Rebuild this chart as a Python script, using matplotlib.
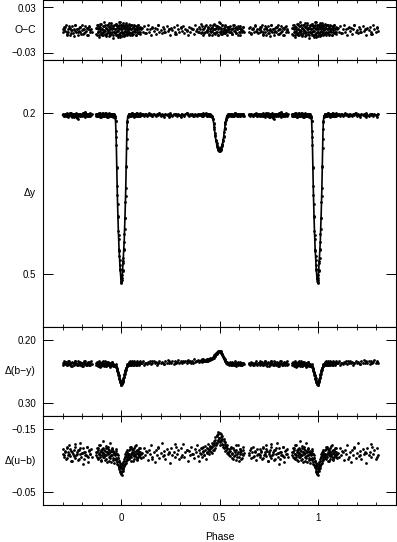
import numpy as np
import matplotlib.pyplot as plt
from matplotlib.ticker import MultipleLocator, NullLocator

plt.rcParams['font.family'] = ['Liberation Sans', 'DejaVu Sans']

# orbital phase of each observation (one cycle, -0.3 .. 0.7); two runs of data
phase = np.array([
    # run 1
    -0.300, -0.296, -0.291, -0.287, -0.283, -0.278, -0.274, -0.270, -0.265, -0.261,
    -0.257, -0.252, -0.248, -0.244, -0.239, -0.235, -0.230, -0.226, -0.222, -0.217,
    -0.213, -0.209, -0.204, -0.200, -0.195, -0.191, -0.187, -0.182, -0.178, -0.174,
    -0.169, -0.165, -0.161, -0.156, -0.152,
    -0.131, -0.128, -0.125, -0.122, -0.119, -0.116, -0.113, -0.110, -0.107, -0.104,
    -0.101, -0.098, -0.095, -0.092, -0.089, -0.086, -0.083, -0.080, -0.077, -0.074,
    -0.071, -0.068, -0.065, -0.062, -0.059, -0.056, -0.053, -0.050, -0.047, -0.044,
    -0.041, -0.038, -0.035,
    -0.032, -0.030, -0.028, -0.026, -0.024, -0.022, -0.020, -0.018, -0.016, -0.014,
    -0.012, -0.010, -0.008, -0.006, -0.004, -0.002, 0.000, 0.002, 0.004, 0.006,
    0.008, 0.010, 0.012, 0.014, 0.016, 0.018, 0.020, 0.022, 0.024, 0.026,
    0.028, 0.030, 0.032,
    0.035, 0.038, 0.041, 0.044, 0.047, 0.050, 0.053, 0.056, 0.059, 0.062,
    0.065, 0.068, 0.071, 0.074, 0.077, 0.080, 0.083, 0.086, 0.089, 0.092,
    0.095, 0.098,
    0.104, 0.110, 0.116, 0.122, 0.128, 0.134, 0.140, 0.146, 0.152, 0.158,
    0.164, 0.170, 0.176, 0.182, 0.188, 0.194, 0.200, 0.206, 0.212, 0.218,
    0.224, 0.230, 0.236, 0.242, 0.248, 0.254, 0.260, 0.266, 0.272, 0.278,
    0.284, 0.290, 0.296, 0.302, 0.308, 0.314, 0.320, 0.326, 0.332, 0.338,
    0.344, 0.350, 0.356, 0.362, 0.368, 0.374, 0.380, 0.386, 0.392, 0.398,
    0.404, 0.410, 0.416, 0.422, 0.428, 0.434, 0.440, 0.446, 0.452,
    0.458, 0.461, 0.464, 0.467, 0.470, 0.473, 0.476, 0.479, 0.482, 0.485,
    0.488, 0.491, 0.494, 0.497, 0.500, 0.503, 0.506, 0.509, 0.512, 0.515,
    0.518, 0.521, 0.524, 0.527, 0.530, 0.533, 0.536, 0.539, 0.542,
    0.547, 0.552, 0.557, 0.562, 0.567, 0.572, 0.577, 0.582, 0.587, 0.592,
    0.597, 0.602, 0.607, 0.612, 0.617, 0.622, 0.627,
    0.650, 0.655, 0.660, 0.665, 0.670, 0.675, 0.680, 0.685, 0.690, 0.695,
    # run 2
    -0.293, -0.289, -0.280, -0.276, -0.268, -0.263, -0.255, -0.250, -0.242, -0.237,
    -0.228, -0.224, -0.215, -0.211, -0.202, -0.197, -0.189, -0.184, -0.176, -0.171,
    -0.163, -0.158,
    -0.126, -0.123, -0.120, -0.117, -0.114, -0.111, -0.108, -0.105, -0.102, -0.099,
    -0.096, -0.093, -0.090, -0.087, -0.084, -0.081, -0.078, -0.075, -0.072, -0.069,
    -0.066, -0.063, -0.060, -0.057, -0.054, -0.051, -0.048, -0.045, -0.042, -0.039,
    -0.036, -0.033, -0.030, -0.027, -0.024, -0.021, -0.018, -0.015, -0.012, -0.009,
    -0.006, -0.003, 0.000, 0.003, 0.006, 0.009, 0.012, 0.015, 0.018, 0.021,
    0.024, 0.027, 0.030, 0.033, 0.036, 0.039, 0.042, 0.045, 0.048, 0.051,
    0.054, 0.057, 0.060, 0.063, 0.066, 0.069, 0.072, 0.075, 0.078, 0.081,
    0.084, 0.087, 0.090, 0.093, 0.096, 0.099,
    0.125, 0.155, 0.185, 0.215, 0.245, 0.275, 0.305, 0.335, 0.365, 0.395,
    0.402, 0.406, 0.410, 0.414, 0.418, 0.422, 0.426, 0.430, 0.434, 0.438,
    0.442, 0.446, 0.450, 0.454, 0.458, 0.462, 0.466, 0.470, 0.474, 0.478,
    0.482, 0.486, 0.490, 0.494, 0.498, 0.502, 0.506, 0.510, 0.514, 0.518,
    0.522, 0.526, 0.530, 0.534, 0.538, 0.542, 0.546, 0.550, 0.554, 0.558,
    0.562, 0.566, 0.570, 0.574, 0.578, 0.582, 0.586, 0.590, 0.594, 0.598,
    0.602, 0.606, 0.610, 0.614, 0.618, 0.622,
    0.652, 0.662, 0.672, 0.682, 0.692,
])

# Delta y (mag)
d_y = np.array([
    # run 1
    0.203, 0.201, 0.205, 0.202, 0.204, 0.200, 0.203, 0.206, 0.202, 0.199,
    0.204, 0.203, 0.201, 0.207, 0.202, 0.204, 0.200, 0.203, 0.211, 0.202,
    0.205, 0.201, 0.203, 0.204, 0.199, 0.202, 0.206, 0.203, 0.201, 0.204,
    0.202, 0.205, 0.200, 0.203, 0.202,
    0.202, 0.204, 0.201, 0.203, 0.205, 0.200, 0.203, 0.202, 0.206, 0.201,
    0.203, 0.204, 0.199, 0.202, 0.205, 0.203, 0.201, 0.204, 0.202, 0.203,
    0.206, 0.201, 0.203, 0.200, 0.204, 0.202, 0.205, 0.203, 0.201, 0.204,
    0.203, 0.202, 0.204,
    0.208, 0.214, 0.233, 0.260, 0.302, 0.336, 0.370, 0.392, 0.420, 0.436,
    0.457, 0.467, 0.484, 0.492, 0.506, 0.510, 0.517, 0.512, 0.503, 0.495,
    0.480, 0.470, 0.453, 0.440, 0.416, 0.396, 0.366, 0.340, 0.298, 0.264,
    0.230, 0.216, 0.206,
    0.204, 0.202, 0.205, 0.201, 0.203, 0.204, 0.200, 0.203, 0.202, 0.205,
    0.203, 0.201, 0.204, 0.202, 0.199, 0.203, 0.205, 0.202, 0.203, 0.201,
    0.204, 0.202,
    0.203, 0.201, 0.204, 0.202, 0.205, 0.203, 0.200, 0.203, 0.202, 0.204,
    0.201, 0.203, 0.205, 0.202, 0.203, 0.199, 0.204, 0.202, 0.203, 0.206,
    0.201, 0.203, 0.202, 0.204, 0.200, 0.203, 0.205, 0.202, 0.203, 0.201,
    0.204, 0.202, 0.203, 0.206, 0.201, 0.203, 0.204, 0.202, 0.200, 0.203,
    0.205, 0.202, 0.203, 0.201, 0.204, 0.202, 0.203, 0.205, 0.201, 0.203,
    0.202, 0.204, 0.200, 0.203, 0.202, 0.205, 0.203, 0.201, 0.204,
    0.203, 0.205, 0.207, 0.211, 0.218, 0.225, 0.236, 0.243, 0.252, 0.256,
    0.263, 0.264, 0.268, 0.268, 0.271, 0.269, 0.266, 0.266, 0.261, 0.258,
    0.250, 0.245, 0.234, 0.227, 0.216, 0.212, 0.206, 0.204, 0.202,
    0.203, 0.201, 0.204, 0.202, 0.205, 0.203, 0.200, 0.203, 0.202, 0.204,
    0.201, 0.203, 0.205, 0.202, 0.203, 0.201, 0.204,
    0.202, 0.204, 0.201, 0.203, 0.205, 0.202, 0.203, 0.200, 0.204, 0.202,
    # run 2
    0.204, 0.202, 0.201, 0.205, 0.203, 0.203, 0.200, 0.206, 0.202, 0.204,
    0.209, 0.201, 0.203, 0.205, 0.202, 0.202, 0.204, 0.197, 0.203, 0.205,
    0.201, 0.204,
    0.203, 0.205, 0.201, 0.204, 0.203, 0.200, 0.204, 0.206, 0.202, 0.203,
    0.201, 0.204, 0.205, 0.202, 0.203, 0.199, 0.204, 0.202, 0.206, 0.203,
    0.201, 0.203, 0.205, 0.202, 0.204, 0.201, 0.203, 0.206, 0.202, 0.204,
    0.203, 0.206, 0.215, 0.245, 0.300, 0.352, 0.394, 0.428, 0.455, 0.475,
    0.494, 0.509, 0.515, 0.508, 0.493, 0.476, 0.456, 0.426, 0.395, 0.354,
    0.301, 0.248, 0.214, 0.205, 0.203, 0.201, 0.204, 0.205, 0.202, 0.203,
    0.200, 0.204, 0.202, 0.206, 0.203, 0.201, 0.204, 0.203, 0.202, 0.205,
    0.201, 0.203, 0.204, 0.202, 0.200, 0.203,
    0.202, 0.204, 0.201, 0.203, 0.206, 0.202, 0.203, 0.200, 0.204, 0.202,
    0.203, 0.201, 0.204, 0.202, 0.205, 0.203, 0.202, 0.200, 0.204, 0.203,
    0.201, 0.205, 0.202, 0.203, 0.204, 0.206, 0.210, 0.219, 0.229, 0.241,
    0.250, 0.259, 0.263, 0.267, 0.270, 0.269, 0.268, 0.263, 0.259, 0.251,
    0.242, 0.230, 0.219, 0.211, 0.206, 0.203, 0.202, 0.204, 0.203, 0.201,
    0.205, 0.202, 0.203, 0.204, 0.200, 0.203, 0.202, 0.205, 0.201, 0.203,
    0.204, 0.202, 0.203, 0.201, 0.204, 0.202,
    0.203, 0.201, 0.204, 0.202, 0.205,
])

# O-C residuals (mag)
o_c = np.array([
    # run 1
    0.002, -0.003, 0.004, -0.001, 0.006, -0.005, 0.001, -0.002, 0.003, -0.006,
    0.000, 0.005, -0.004, 0.002, -0.001, 0.007, -0.003, 0.001, -0.007, 0.003,
    -0.002, 0.004, -0.005, 0.000, 0.002, -0.004, 0.005, -0.001, 0.003, -0.006,
    0.001, 0.004, -0.003, 0.002, -0.002,
    0.003, -0.005, 0.006, -0.002, 0.001, -0.007, 0.004, -0.001, 0.008, -0.004,
    0.002, -0.006, 0.005, -0.003, 0.000, 0.007, -0.005, 0.003, -0.008, 0.002,
    -0.001, 0.006, -0.004, 0.004, -0.006, 0.001, 0.009, -0.002, 0.003, -0.007,
    0.005, -0.003, 0.002,
    -0.004, 0.006, -0.002, 0.008, -0.006, 0.003, -0.009, 0.005, -0.001, 0.007,
    -0.005, 0.002, 0.010, -0.007, 0.004, -0.003, 0.006, -0.008, 0.001, 0.005,
    -0.004, 0.009, -0.002, 0.003, -0.006, 0.007, -0.001, 0.004, -0.005, 0.002,
    0.006, -0.003, 0.001,
    -0.005, 0.004, -0.002, 0.006, -0.004, 0.001, 0.007, -0.006, 0.003, -0.001,
    0.005, -0.003, 0.002, -0.007, 0.004, 0.000, -0.004, 0.006, -0.002, 0.003,
    -0.005, 0.001,
    0.003, -0.002, 0.005, -0.004, 0.001, 0.006, -0.003, 0.002, -0.006, 0.004,
    -0.001, 0.003, -0.005, 0.002, 0.007, -0.002, 0.000, -0.004, 0.004, 0.001,
    -0.003, 0.005, -0.001, 0.002, -0.006, 0.003, 0.000, 0.004, -0.002, -0.005,
    0.006, 0.001, -0.003, 0.003, -0.001, 0.005, -0.004, 0.002, 0.000, -0.007,
    0.004, -0.002, 0.003, 0.001, -0.005, 0.006, -0.001, 0.002, -0.003, 0.004,
    0.008, -0.002, 0.001, -0.004, 0.005, -0.001, 0.003, -0.006, 0.002,
    -0.003, 0.004, -0.001, 0.006, -0.004, 0.002, 0.007, -0.005, 0.003, -0.002,
    0.005, -0.006, 0.001, 0.004, -0.003, 0.009, -0.001, 0.003, -0.005, 0.006,
    -0.002, 0.002, -0.004, 0.005, 0.000, -0.003, 0.004, -0.001, 0.002,
    0.004, -0.003, 0.002, -0.005, 0.006, -0.001, 0.003, -0.004, 0.001, 0.005,
    -0.002, 0.003, -0.006, 0.002, 0.000, 0.004, -0.003,
    -0.002, 0.004, -0.005, 0.001, 0.003, -0.003, 0.006, -0.001, 0.002, -0.004,
    # run 2
    0.001, 0.004, -0.006, -0.002, 0.005, 0.003, -0.004, 0.000, -0.008, 0.006,
    0.002, -0.003, -0.001, 0.004, 0.007, -0.005, 0.001, -0.002, 0.003, -0.006,
    0.005, 0.000,
    -0.006, 0.003, 0.007, -0.002, -0.009, 0.004, 0.001, -0.005, 0.008, 0.002,
    -0.003, -0.007, 0.005, 0.010, -0.001, 0.003, -0.006, -0.004, 0.006, 0.000,
    0.009, -0.008, -0.002, 0.004, 0.007, -0.005, 0.001, -0.010, 0.003, 0.006,
    -0.003, 0.002, -0.007, 0.008, 0.005, -0.001, -0.006, 0.011, 0.003, -0.004,
    -0.009, 0.006, 0.001, -0.002, 0.007, -0.005, 0.004, -0.008, 0.002, 0.009,
    -0.003, 0.005, -0.006, 0.000, 0.008, -0.004, 0.003, -0.007, 0.006, 0.001,
    -0.002, 0.004, -0.005, 0.007, -0.001, 0.002, -0.006, 0.005, 0.003, -0.003,
    0.006, -0.004, 0.001, 0.004, -0.002, 0.003,
    -0.004, 0.003, 0.006, -0.002, 0.001, -0.005, 0.004, -0.001, 0.002, -0.003,
    0.002, -0.004, 0.005, 0.001, -0.006, 0.003, -0.002, 0.007, -0.003, 0.000,
    0.004, -0.005, 0.006, -0.001, 0.003, -0.007, 0.002, 0.008, -0.004, 0.001,
    -0.002, 0.005, -0.006, 0.004, 0.010, -0.003, 0.002, -0.005, 0.006, -0.001,
    0.003, -0.004, 0.007, 0.000, -0.006, 0.004, 0.001, -0.003, 0.005, -0.002,
    0.002, -0.005, 0.003, 0.006, -0.001, -0.004, 0.004, 0.001, -0.007, 0.003,
    -0.002, 0.005, 0.000, -0.003, 0.004, -0.001,
    0.003, -0.004, 0.001, 0.005, -0.002,
])

# Delta(b-y) (mag)
d_by = np.array([
    # run 1
    0.236, 0.239, 0.234, 0.238, 0.235, 0.240, 0.237, 0.233, 0.238, 0.236,
    0.241, 0.235, 0.237, 0.239, 0.234, 0.238, 0.236, 0.240, 0.233, 0.237,
    0.239, 0.235, 0.238, 0.236, 0.241, 0.234, 0.237, 0.239, 0.236, 0.238,
    0.235, 0.240, 0.237, 0.234, 0.238,
    0.237, 0.240, 0.235, 0.238, 0.236, 0.242, 0.234, 0.239, 0.237, 0.241,
    0.235, 0.238, 0.240, 0.236, 0.239, 0.234, 0.238, 0.241, 0.236, 0.239,
    0.237, 0.235, 0.240, 0.238, 0.236, 0.241, 0.237, 0.239, 0.235, 0.240,
    0.238, 0.241, 0.239,
    0.240, 0.238, 0.243, 0.241, 0.246, 0.245, 0.250, 0.252, 0.255, 0.257,
    0.262, 0.261, 0.266, 0.265, 0.270, 0.268, 0.272, 0.267, 0.269, 0.264,
    0.265, 0.260, 0.259, 0.255, 0.254, 0.249, 0.248, 0.244, 0.245, 0.241,
    0.242, 0.238, 0.239,
    0.238, 0.235, 0.240, 0.237, 0.236, 0.239, 0.234, 0.238, 0.236, 0.240,
    0.237, 0.235, 0.238, 0.236, 0.239, 0.234, 0.237, 0.236, 0.238, 0.235,
    0.237, 0.236,
    0.237, 0.234, 0.239, 0.236, 0.238, 0.235, 0.237, 0.233, 0.238, 0.236,
    0.234, 0.237, 0.235, 0.239, 0.236, 0.233, 0.237, 0.235, 0.236, 0.238,
    0.234, 0.236, 0.232, 0.237, 0.235, 0.236, 0.233, 0.238, 0.234, 0.236,
    0.235, 0.232, 0.236, 0.234, 0.237, 0.233, 0.235, 0.234, 0.236, 0.232,
    0.235, 0.233, 0.236, 0.234, 0.231, 0.235, 0.233, 0.234, 0.232, 0.235,
    0.233, 0.230, 0.234, 0.232, 0.233, 0.231, 0.233, 0.230, 0.232,
    0.231, 0.229, 0.230, 0.227, 0.228, 0.225, 0.226, 0.222, 0.223, 0.220,
    0.221, 0.218, 0.220, 0.217, 0.219, 0.218, 0.221, 0.220, 0.223, 0.224,
    0.227, 0.228, 0.231, 0.232, 0.234, 0.236, 0.235, 0.238, 0.236,
    0.238, 0.235, 0.240, 0.237, 0.236, 0.239, 0.234, 0.238, 0.237, 0.240,
    0.236, 0.238, 0.235, 0.239, 0.237, 0.236, 0.238,
    0.237, 0.239, 0.235, 0.238, 0.236, 0.240, 0.237, 0.234, 0.238, 0.236,
    # run 2
    0.237, 0.235, 0.240, 0.238, 0.233, 0.239, 0.236, 0.241, 0.237, 0.234,
    0.238, 0.240, 0.235, 0.237, 0.242, 0.236, 0.238, 0.234, 0.239, 0.237,
    0.235, 0.240,
    0.238, 0.236, 0.241, 0.237, 0.235, 0.239, 0.243, 0.236, 0.238, 0.240,
    0.234, 0.237, 0.241, 0.239, 0.236, 0.238, 0.242, 0.235, 0.239, 0.237,
    0.240, 0.236, 0.238, 0.243, 0.237, 0.239, 0.235, 0.241, 0.238, 0.240,
    0.239, 0.241, 0.243, 0.242, 0.247, 0.249, 0.253, 0.256, 0.260, 0.263,
    0.266, 0.269, 0.271, 0.268, 0.266, 0.262, 0.259, 0.254, 0.251, 0.247,
    0.245, 0.240, 0.241, 0.238, 0.236, 0.239, 0.237, 0.234, 0.238, 0.240,
    0.235, 0.237, 0.239, 0.236, 0.233, 0.238, 0.236, 0.240, 0.237, 0.235,
    0.238, 0.236, 0.239, 0.234, 0.237, 0.236,
    0.237, 0.234, 0.236, 0.238, 0.233, 0.236, 0.235, 0.233, 0.236, 0.234,
    0.234, 0.232, 0.235, 0.233, 0.231, 0.234, 0.232, 0.233, 0.230, 0.233,
    0.231, 0.232, 0.229, 0.231, 0.230, 0.228, 0.229, 0.226, 0.224, 0.225,
    0.221, 0.222, 0.219, 0.220, 0.217, 0.219, 0.218, 0.221, 0.222, 0.226,
    0.228, 0.231, 0.233, 0.235, 0.237, 0.236, 0.237, 0.239, 0.236, 0.238,
    0.240, 0.235, 0.237, 0.239, 0.236, 0.238, 0.241, 0.237, 0.235, 0.238,
    0.236, 0.239, 0.237, 0.240, 0.236, 0.238,
    0.238, 0.236, 0.239, 0.237, 0.240,
])

# Delta(u-b) (mag)
d_ub = np.array([
    # run 1
    -0.110, -0.118, -0.106, -0.114, -0.102, -0.120, -0.109, -0.113, -0.125, -0.107,
    -0.115, -0.099, -0.111, -0.117, -0.104, -0.122, -0.108, -0.113, -0.101, -0.116,
    -0.110, -0.128, -0.105, -0.112, -0.119, -0.103, -0.114, -0.109, -0.121, -0.107,
    -0.097, -0.115, -0.111, -0.118, -0.106,
    -0.113, -0.108, -0.120, -0.104, -0.116, -0.110, -0.124, -0.106, -0.114, -0.101,
    -0.118, -0.109, -0.112, -0.130, -0.105, -0.115, -0.108, -0.119, -0.103, -0.113,
    -0.111, -0.121, -0.100, -0.116, -0.107, -0.114, -0.098, -0.118, -0.109, -0.104,
    -0.115, -0.102, -0.110,
    -0.112, -0.104, -0.118, -0.102, -0.110, -0.097, -0.108, -0.093, -0.104, -0.090,
    -0.100, -0.086, -0.096, -0.082, -0.092, -0.079, -0.088, -0.077, -0.094, -0.084,
    -0.098, -0.088, -0.102, -0.093, -0.106, -0.095, -0.110, -0.099, -0.113, -0.103,
    -0.116, -0.106, -0.111,
    -0.108, -0.116, -0.103, -0.121, -0.110, -0.105, -0.118, -0.112, -0.099, -0.114,
    -0.107, -0.123, -0.109, -0.115, -0.102, -0.117, -0.111, -0.106, -0.119, -0.108,
    -0.113, -0.104,
    -0.112, -0.105, -0.119, -0.108, -0.114, -0.101, -0.117, -0.110, -0.124, -0.106,
    -0.113, -0.098, -0.116, -0.109, -0.121, -0.104, -0.112, -0.127, -0.107, -0.115,
    -0.102, -0.118, -0.110, -0.113, -0.096, -0.120, -0.108, -0.114, -0.105, -0.122,
    -0.111, -0.116, -0.103, -0.119, -0.109, -0.126, -0.106, -0.113, -0.117, -0.100,
    -0.115, -0.108, -0.121, -0.111, -0.104, -0.118, -0.113, -0.124, -0.107, -0.116,
    -0.110, -0.120, -0.114, -0.108, -0.123, -0.112, -0.118, -0.115, -0.121,
    -0.114, -0.121, -0.112, -0.124, -0.117, -0.128, -0.120, -0.133, -0.124, -0.138,
    -0.127, -0.141, -0.130, -0.136, -0.125, -0.143, -0.131, -0.137, -0.126, -0.134,
    -0.122, -0.130, -0.119, -0.126, -0.115, -0.123, -0.112, -0.119, -0.110,
    -0.114, -0.107, -0.120, -0.111, -0.103, -0.117, -0.109, -0.125, -0.106, -0.113,
    -0.100, -0.118, -0.110, -0.115, -0.104, -0.121, -0.112,
    -0.109, -0.117, -0.104, -0.113, -0.122, -0.107, -0.115, -0.101, -0.118, -0.110,
    # run 2
    -0.108, -0.115, -0.121, -0.104, -0.111, -0.118, -0.100, -0.113, -0.107, -0.126,
    -0.110, -0.116, -0.103, -0.119, -0.112, -0.095, -0.114, -0.109, -0.122, -0.106,
    -0.117, -0.111,
    -0.114, -0.106, -0.119, -0.102, -0.111, -0.125, -0.108, -0.116, -0.099, -0.113,
    -0.120, -0.105, -0.110, -0.117, -0.101, -0.123, -0.109, -0.114, -0.097, -0.118,
    -0.106, -0.112, -0.127, -0.104, -0.115, -0.108, -0.120, -0.101, -0.113, -0.096,
    -0.110, -0.108, -0.115, -0.101, -0.110, -0.095, -0.104, -0.089, -0.099, -0.084,
    -0.093, -0.080, -0.090, -0.083, -0.095, -0.086, -0.100, -0.091, -0.105, -0.096,
    -0.109, -0.101, -0.114, -0.106, -0.111, -0.104, -0.118, -0.107, -0.122, -0.100,
    -0.113, -0.109, -0.116, -0.103, -0.120, -0.110, -0.106, -0.125, -0.112, -0.101,
    -0.117, -0.108, -0.114, -0.119, -0.105, -0.111,
    -0.115, -0.103, -0.120, -0.109, -0.112, -0.126, -0.105, -0.117, -0.110, -0.099,
    -0.112, -0.119, -0.106, -0.115, -0.122, -0.109, -0.117, -0.103, -0.120, -0.113,
    -0.126, -0.110, -0.118, -0.123, -0.121, -0.128, -0.116, -0.131, -0.124, -0.137,
    -0.127, -0.140, -0.132, -0.145, -0.135, -0.129, -0.141, -0.133, -0.138, -0.125,
    -0.134, -0.122, -0.129, -0.117, -0.124, -0.113, -0.118, -0.108, -0.115, -0.121,
    -0.104, -0.112, -0.119, -0.107, -0.114, -0.101, -0.116, -0.110, -0.124, -0.106,
    -0.113, -0.118, -0.103, -0.111, -0.117, -0.109,
    -0.112, -0.119, -0.105, -0.114, -0.108,
])

# repeat the start of the cycle after phase 1
rep = phase <= 0.31
x = np.concatenate([phase, phase[rep] + 1])


def extend(v):
    return np.concatenate([v, v[rep]])


fig = plt.figure(figsize=(3.97, 5.42), dpi=100)
L, W = 43 / 397, 353 / 397
ax_oc = fig.add_axes([L, 482 / 542, W, 60 / 542])
ax_y = fig.add_axes([L, 215 / 542, W, 267 / 542])
ax_by = fig.add_axes([L, 126 / 542, W, 89 / 542])
ax_ub = fig.add_axes([L, 37 / 542, W, 89 / 542])

dot = dict(ls='none', marker='o', ms=2.0, mew=0, color='k')

ax_oc.plot(x, extend(o_c), **dot)

# main light curve: connect sorted points, broken at data gaps
order = np.argsort(x, kind='stable')
xs, ys = x[order], extend(d_y)[order]
brk = np.where(np.diff(xs) > 0.012)[0] + 1
xs = np.insert(xs, brk, np.nan)
ys = np.insert(ys, brk, np.nan)
ax_y.plot(xs, ys, color='k', lw=1.2)
ax_y.plot(x, extend(d_y), **dot)

ax_by.plot(x, extend(d_by), **dot)
ax_ub.plot(x, extend(d_ub), **dot)

ax_oc.set_ylim(-0.04, 0.04)
ax_y.set_ylim(0.6, 0.1)
ax_by.set_ylim(0.32, 0.18)
ax_ub.set_ylim(-0.03, -0.17)

ax_oc.set_yticks([0.03, -0.03], ['0.03', '\u22120.03'])
ax_y.set_yticks([0.2, 0.5], ['0.2', '0.5'])
ax_by.set_yticks([0.20, 0.30], ['0.20', '0.30'])
ax_ub.set_yticks([-0.15, -0.05], ['\u22120.15', '\u22120.05'])

labels = ['O\u2212C', '\u0394y', '\u0394(b\u2212y)', '\u0394(u\u2212b)']
for ax, lab in zip([ax_oc, ax_y, ax_by, ax_ub], labels):
    ax.set_xlim(-0.4, 1.4)
    ax.set_xticks([0, 0.5, 1], ['0', '0.5', '1'])
    ax.xaxis.set_minor_locator(MultipleLocator(0.1))
    ax.yaxis.set_minor_locator(NullLocator())
    ax.tick_params(axis='x', which='major', direction='in', length=4, width=0.7,
                   top=True, labelsize=7, pad=6)
    ax.tick_params(axis='x', which='minor', direction='in', length=2, width=0.6, top=True)
    ax.tick_params(axis='y', direction='in', length=7.2, width=0.7, right=True,
                   labelsize=7, pad=5)
    for sp in ax.spines.values():
        sp.set_linewidth(0.8)
    ax.text(-0.02, 0.5, lab, transform=ax.transAxes, ha='right', va='center', fontsize=7.5)
    if ax is not ax_ub:
        ax.tick_params(axis='x', labelbottom=False)

fig.text(220 / 397, 1.5 / 542, 'Phase', ha='center', va='baseline', fontsize=7.5)

fig.savefig('out.png', dpi=100)
